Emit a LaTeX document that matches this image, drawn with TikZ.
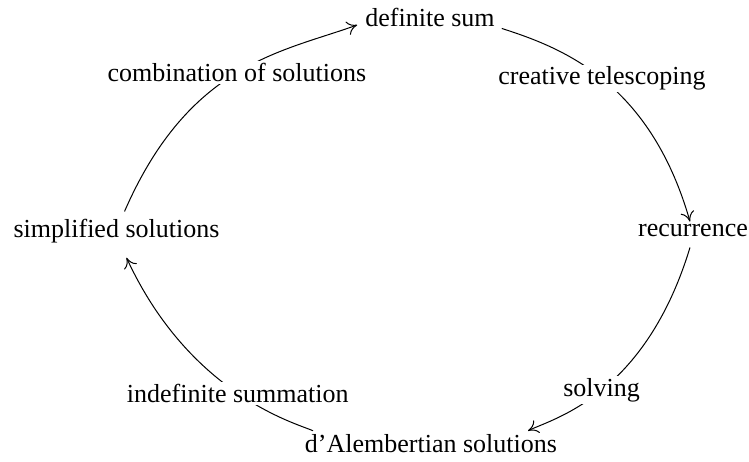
\documentclass[tikz,border=0pt]{standalone}
\usepackage{fontspec}
\setmainfont{Liberation Serif}
\usetikzlibrary{arrows.meta}
\begin{document}
\begin{tikzpicture}[x=1pt,y=1pt,
  every node/.style={font=\fontsize{26}{31}\selectfont, inner sep=3pt, anchor=base},
  lbl/.style={fill=white, inner sep=2pt, anchor=center},
  conn/.style={line width=1pt, -{To[length=10pt,width=14pt]}}]
\useasboundingbox (0,0) rectangle (749,-462);
\node (ds) at (430,-27) {definite sum};
\node (rec) at (693,-237) {recurrence};
\node (dal) at (431,-452) {d'Alembertian solutions};
\node (sim) at (116.5,-238) {simplified solutions};
\draw[conn] ([shift={(4,2)}]ds.south east) .. controls +(57,-18.5) and +(-40.8,142.2) .. node[lbl,pos=0.5] (l1) {creative telescoping} ([xshift=-3]rec.north);
\draw[conn] ([shift={(-3,-7)}]rec.south) .. controls +(-45,-148.3) and +(25.2,12.2) .. node[lbl,pos=0.5] (l2) {solving} ([xshift=97]dal.north);
\draw[conn] ([xshift=-118]dal.north) .. controls +(-15.8,7.2) and +(63.8,-137.9) .. node[lbl,pos=0.5] (l3) {indefinite summation} ([shift={(10,-11)}]sim.south);
\draw[conn] ([shift={(8,5)}]sim.north) .. controls +(64.8,148.6) and +(-75.2,-27.2) .. node[lbl,pos=0.5] (l4) {combination of solutions} ([shift={(-5,-7)}]ds.west);
\end{tikzpicture}
\end{document}
